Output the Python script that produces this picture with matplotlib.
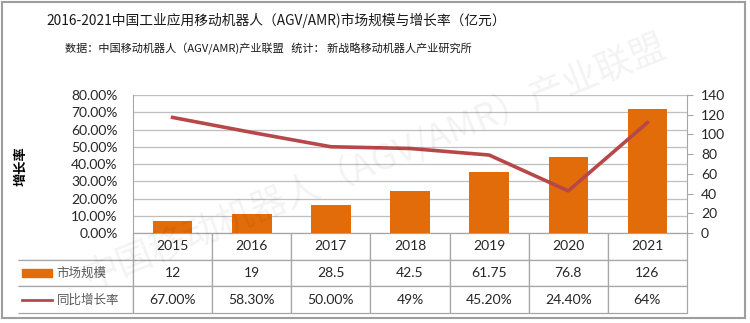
import matplotlib
matplotlib.use("Agg")
import matplotlib.pyplot as plt
from matplotlib.patches import Rectangle
from matplotlib.lines import Line2D
from matplotlib.ticker import PercentFormatter, MultipleLocator

plt.rcParams['font.family'] = ['Lato', 'Noto Sans CJK SC', 'DejaVu Sans']

years = ["2015", "2016", "2017", "2018", "2019", "2020", "2021"]
market_size = [12, 19, 28.5, 42.5, 61.75, 76.8, 126]
growth_rate = [67.0, 58.3, 50.0, 49.0, 45.2, 24.4, 64.0]
market_labels = ["12", "19", "28.5", "42.5", "61.75", "76.8", "126"]
growth_labels = ["67.00%", "58.30%", "50.00%", "49%", "45.20%", "24.40%", "64%"]

title = "2016-2021中国工业应用移动机器人（AGV/AMR)市场规模与增长率（亿元）"
subtitle = "数据：中国移动机器人（AGV/AMR)产业联盟   统计： 新战略移动机器人产业研究所"

bar_color = "#E36C0A"
line_color = "#B8474A"
grid_color = "#BFBFBF"
table_color = "#A6A6A6"
cjk = ['Noto Sans CJK SC', 'DejaVu Sans']

fig = plt.figure(figsize=(7.5, 3.23), dpi=100)
ax = fig.add_axes([133 / 750, 1 - 233 / 323, 554 / 750, 138 / 323])
x = list(range(len(years)))

# left axis: growth rate, grid
ax.set_xlim(-0.5, len(years) - 0.5)
ax.set_ylim(0, 80)
ax.yaxis.set_major_locator(MultipleLocator(10))
ax.yaxis.set_major_formatter(PercentFormatter(decimals=2))
ax.grid(axis="y", color=grid_color, lw=0.9)
ax.set_xticks([])
ax.tick_params(axis="y", length=0, pad=11, labelsize=10, colors="#262626")
for s in ["top", "bottom", "right"]:
    ax.spines[s].set_visible(False)
ax.spines["left"].set_color(table_color)

# right axis: market size bars
ax2 = ax.twinx()
ax2.bar(x, market_size, width=0.5, color=bar_color)
ax2.set_ylim(0, 140)
ax2.yaxis.set_major_locator(MultipleLocator(20))
ax2.tick_params(axis="y", length=4, pad=6, labelsize=10, colors="#262626",
                color=table_color)
for s in ["top", "bottom", "left"]:
    ax2.spines[s].set_visible(False)
ax2.spines["right"].set_color(table_color)

# growth line on top
ax3 = ax.twinx()
ax3.set_ylim(ax.get_ylim())
ax3.plot(x, growth_rate, color=line_color, lw=2.6)
ax3.axis("off")

# data table
w0 = 115 / 554
wc = 1 / len(years)
cell_text = [[""] + years, [""] + market_labels, [""] + growth_labels]
tbl = ax.table(cellText=cell_text, colWidths=[w0] + [wc] * len(years),
               cellLoc="center", bbox=[-w0, -80 / 138, 1 + w0, 80 / 138])
tbl.auto_set_font_size(False)
tbl.set_fontsize(10)
for (r, c), cell in tbl.get_celld().items():
    cell.set_edgecolor(table_color)
    cell.set_linewidth(0.9)
    cell.get_text().set_color("#262626")
    if c == 0:
        cell.visible_edges = "B" if r == 0 else "BTR"

# legend keys in the table
ax.add_patch(Rectangle((-0.2004, -0.319), 0.054, 0.058, transform=ax.transAxes,
                       color=bar_color, clip_on=False))
ax.add_line(Line2D([-0.2004, -0.1462], [-0.4855, -0.4855], transform=ax.transAxes,
                   color=line_color, lw=2, clip_on=False))
ax.text(-0.138, -0.29, "市场规模", transform=ax.transAxes, ha="left", va="center",
        fontsize=9, color="#595959", family=cjk)
ax.text(-0.138, -0.4855, "同比增长率", transform=ax.transAxes, ha="left", va="center",
        fontsize=9, color="#595959", family=cjk)

# titles and label
fig.text(276 / 750, 1 - 20 / 323, title, ha="center", va="center", fontsize=9.9,
         family=cjk, color="#1a1a1a")
fig.text(268 / 750, 1 - 49 / 323, subtitle, ha="center", va="center", fontsize=8,
         family=cjk, color="#1a1a1a")
fig.text(20 / 750, 1 - 166 / 323, "增长率", rotation=90, ha="center", va="center",
         fontsize=9.5, fontweight="bold", family=cjk)

# watermark
fig.text(0.5, 0.5, "中国移动机器人（AGV/AMR）产业联盟", rotation=22, ha="center",
         va="center", fontsize=26, family=cjk, color="#000000", alpha=0.05)

fig.add_artist(Rectangle((0.003, 0.0155), 0.99, 0.978, transform=fig.transFigure,
                         fill=False, edgecolor="#9E9E9E", lw=1.5))

fig.savefig("out.png", dpi=100)
